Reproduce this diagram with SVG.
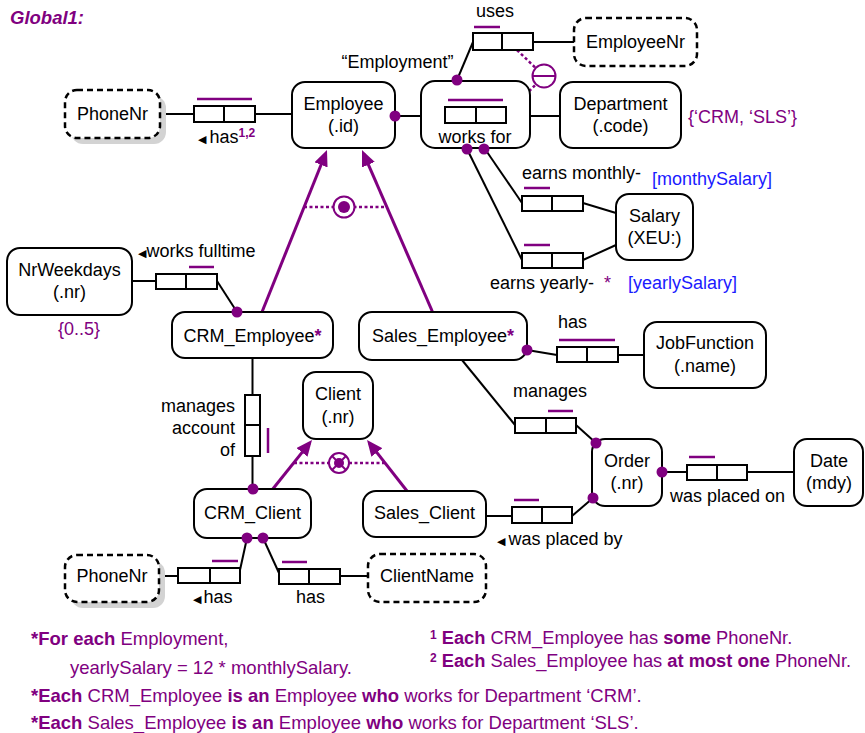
<svg xmlns="http://www.w3.org/2000/svg" width="865" height="733" viewBox="0 0 865 733">
<defs>
<style>
.ent{fill:#fff;stroke:#000;stroke-width:2}
.val{fill:#fff;stroke:#000;stroke-width:2.5;stroke-dasharray:6 4}
.shd{fill:#d3d3d3;stroke:none}
.role{fill:#fff;stroke:#000;stroke-width:2}
.ln{stroke:#000;stroke-width:2;fill:none}
.uq{stroke:#800080;stroke-width:2.5;fill:none}
.sub{stroke:#800080;stroke-width:3;fill:none}
.cdash{stroke:#800080;stroke-width:2.5;stroke-dasharray:3 2.5;fill:none}
.csym{fill:#fff;stroke:#800080;stroke-width:2}
.dot{fill:#800080}
text{font-family:"Liberation Sans",Arial,sans-serif;font-size:18px;fill:#000}
.c{text-anchor:middle}
.e{text-anchor:end}
.p{fill:#800080}
.b{fill:#1a1aff}
.bold{font-weight:bold}
.tri{font-family:"DejaVu Sans",sans-serif;font-size:11px}
.note{font-size:18.5px;fill:#800080}
.fn{font-size:18.3px;fill:#800080}
</style>
<marker id="arr" viewBox="0 0 16 14" markerWidth="16" markerHeight="14" refX="12" refY="7" orient="auto" markerUnits="userSpaceOnUse">
<path d="M0,0 L16,7 L0,14 z" fill="#800080"/>
</marker>
</defs>

<text x="10" y="24" class="p bold" style="font-style:italic;font-size:18.5px">Global1:</text>

<g id="connectors">
<line class="ln" x1="160" y1="114" x2="293" y2="114"/>
<line class="ln" x1="395" y1="116" x2="560" y2="116"/>
<line class="ln" x1="457" y1="80" x2="473" y2="42"/>
<line class="ln" x1="533" y1="42" x2="574" y2="42"/>
<line class="ln" x1="485" y1="149" x2="522" y2="203"/>
<line class="ln" x1="467" y1="149" x2="522" y2="260"/>
<line class="ln" x1="583" y1="203" x2="616" y2="213"/>
<line class="ln" x1="583" y1="260" x2="616" y2="245"/>
<line class="ln" x1="132" y1="281" x2="156" y2="281"/>
<line class="ln" x1="217" y1="281" x2="237" y2="312"/>
<line class="ln" x1="527" y1="350" x2="557" y2="355"/>
<line class="ln" x1="618" y1="355" x2="644" y2="355"/>
<line class="ln" x1="462" y1="360" x2="515" y2="425"/>
<line class="ln" x1="576" y1="425" x2="596" y2="443"/>
<line class="ln" x1="662" y1="472" x2="687" y2="472"/>
<line class="ln" x1="747" y1="472" x2="794" y2="472"/>
<line class="ln" x1="486" y1="516" x2="512" y2="516"/>
<line class="ln" x1="572" y1="516" x2="593" y2="498"/>
<line class="ln" x1="252.5" y1="358" x2="252.5" y2="395"/>
<line class="ln" x1="252.5" y1="456" x2="252.5" y2="489"/>
<line class="ln" x1="159" y1="576" x2="178" y2="576"/>
<line class="ln" x1="247" y1="538" x2="240" y2="570"/>
<line class="ln" x1="263" y1="538" x2="279" y2="573"/>
<line class="ln" x1="340" y1="576" x2="368" y2="576"/>
<line class="sub" x1="262" y1="312" x2="325.5" y2="153.7" marker-end="url(#arr)"/>
<line class="sub" x1="433" y1="313" x2="363.6" y2="153.7" marker-end="url(#arr)"/>
<line class="sub" x1="272" y1="490" x2="309.5" y2="443.1" marker-end="url(#arr)"/>
<line class="sub" x1="407" y1="491" x2="369.5" y2="443.1" marker-end="url(#arr)"/>
<line class="cdash" x1="304" y1="207" x2="387" y2="207"/>
<line class="cdash" x1="294" y1="463" x2="385" y2="463"/>
<line class="cdash" x1="517" y1="50" x2="544" y2="76"/>
<line class="cdash" x1="506" y1="115" x2="544" y2="76"/>
</g>

<g id="constraint-employee-xor">
<circle class="csym" cx="344" cy="207" r="10.5"/>
<circle class="dot" cx="344" cy="207" r="6"/>
</g>
<g id="constraint-client-partition">
<circle class="csym" cx="339" cy="463" r="10"/>
<line class="uq" style="stroke-width:2" x1="332" y1="456" x2="346" y2="470"/>
<line class="uq" style="stroke-width:2" x1="346" y1="456" x2="332" y2="470"/>
<circle class="dot" cx="339" cy="463" r="5"/>
</g>
<g id="constraint-external-uniqueness">
<circle class="csym" cx="544" cy="76" r="11.5"/>
<line class="uq" style="stroke-width:2" x1="532.5" y1="76" x2="555.5" y2="76"/>
</g>

<g id="PhoneNr1">
<rect class="shd" x="71" y="96" width="95" height="48" rx="12"/>
<rect class="val" x="65" y="90" width="95" height="48" rx="12"/>
<text class="c" x="112.5" y="120">PhoneNr</text>
</g>
<g id="fact-has-phone">
<rect class="role" x="194" y="106" width="30" height="16"/>
<rect class="role" x="224" y="106" width="31" height="16"/>
<line class="uq" x1="197" y1="99" x2="252" y2="99"/>
<text x="198" y="143"><tspan class="tri">◀</tspan><tspan dx="3">has</tspan><tspan class="p bold" style="font-size:12px" dy="-6">1,2</tspan></text>
</g>

<g id="Employee">
<rect class="ent" x="292" y="82" width="103" height="66" rx="13"/>
<text class="c" x="343.5" y="110">Employee</text>
<text class="c" x="343.5" y="132">(.id)</text>
</g>

<g id="Employment">
<rect class="ent" x="421" y="81" width="109" height="67" rx="14"/>
<rect class="role" x="445" y="107" width="31" height="16"/>
<rect class="role" x="476" y="107" width="30" height="16"/>
<line class="uq" x1="448" y1="100" x2="503" y2="100"/>
<text class="c" x="475" y="143">works for</text>
<text class="c" x="397.5" y="68">“Employment”</text>
</g>

<g id="fact-uses">
<rect class="role" x="473" y="33" width="29" height="17"/>
<rect class="role" x="502" y="33" width="31" height="17"/>
<line class="uq" x1="474" y1="27" x2="500" y2="27"/>
<text class="c" x="495" y="17">uses</text>
</g>

<g id="EmployeeNr">
<rect class="val" x="574" y="18" width="123" height="48" rx="12"/>
<text class="c" x="635.5" y="48">EmployeeNr</text>
</g>

<g id="Department">
<rect class="ent" x="560" y="82" width="121" height="66" rx="13"/>
<text class="c" x="620.5" y="110">Department</text>
<text class="c" x="620.5" y="132">(.code)</text>
<text class="p" x="688" y="123">{‘CRM, ‘SLS’}</text>
</g>

<g id="fact-earns-monthly">
<rect class="role" x="522" y="196" width="30" height="15"/>
<rect class="role" x="552" y="196" width="31" height="15"/>
<line class="uq" x1="524" y1="188" x2="550" y2="188"/>
<text x="522" y="179">earns monthly-</text>
<text class="b" x="652" y="185">[monthySalary]</text>
</g>
<g id="fact-earns-yearly">
<rect class="role" x="522" y="253" width="30" height="15"/>
<rect class="role" x="552" y="253" width="31" height="15"/>
<line class="uq" x1="524" y1="245" x2="550" y2="245"/>
<text x="490" y="289">earns yearly-</text>
<text class="p" x="604" y="289">*</text>
<text class="b" x="628" y="289">[yearlySalary]</text>
</g>

<g id="Salary">
<rect class="ent" x="616" y="194" width="77" height="66" rx="13"/>
<text class="c" x="654.5" y="222">Salary</text>
<text class="c" x="654.5" y="244">(XEU:)</text>
</g>

<g id="NrWeekdays">
<rect class="ent" x="7" y="248" width="125" height="67" rx="13"/>
<text class="c" x="69.5" y="276">NrWeekdays</text>
<text class="c" x="69.5" y="298">(.nr)</text>
<text class="c p" x="79" y="335">{0..5}</text>
</g>
<g id="fact-works-fulltime">
<rect class="role" x="156" y="274" width="30" height="15"/>
<rect class="role" x="186" y="274" width="31" height="15"/>
<line class="uq" x1="189" y1="267" x2="214" y2="267"/>
<text x="138" y="257"><tspan class="tri">◀</tspan><tspan>works fulltime</tspan></text>
</g>

<g id="CRM_Employee">
<rect class="ent" x="172" y="312" width="161" height="46" rx="13"/>
<text class="c" x="252.5" y="342">CRM_Employee<tspan class="p bold">*</tspan></text>
</g>

<g id="Sales_Employee">
<rect class="ent" x="359" y="312" width="168" height="48" rx="13"/>
<text class="c" x="443" y="342">Sales_Employee<tspan class="p bold">*</tspan></text>
</g>

<g id="fact-has-jobfunction">
<rect class="role" x="557" y="347" width="30" height="15"/>
<rect class="role" x="587" y="347" width="31" height="15"/>
<line class="uq" x1="559" y1="340" x2="615" y2="340"/>
<text x="558" y="328">has</text>
</g>

<g id="JobFunction">
<rect class="ent" x="644" y="322" width="122" height="66" rx="13"/>
<text class="c" x="705" y="349">JobFunction</text>
<text class="c" x="705" y="372">(.name)</text>
</g>

<g id="fact-manages-account">
<rect class="role" x="245" y="395" width="15" height="30"/>
<rect class="role" x="245" y="425" width="15" height="31"/>
<line class="uq" x1="268" y1="428" x2="268" y2="453"/>
<text class="e" x="235" y="412">manages</text>
<text class="e" x="235" y="434">account</text>
<text class="e" x="235" y="456">of</text>
</g>

<g id="Client">
<rect class="ent" x="303" y="372" width="70" height="67" rx="13"/>
<text class="c" x="338" y="400">Client</text>
<text class="c" x="338" y="423">(.nr)</text>
</g>

<g id="fact-manages-order">
<rect class="role" x="515" y="418" width="31" height="15"/>
<rect class="role" x="546" y="418" width="30" height="15"/>
<line class="uq" x1="548" y1="411" x2="573" y2="411"/>
<text x="513" y="397">manages</text>
</g>

<g id="Order">
<rect class="ent" x="592" y="439" width="70" height="67" rx="13"/>
<text class="c" x="627" y="467">Order</text>
<text class="c" x="627" y="489">(.nr)</text>
</g>

<g id="fact-placed-on">
<rect class="role" x="687" y="465" width="30" height="15"/>
<rect class="role" x="717" y="465" width="30" height="15"/>
<line class="uq" x1="689" y1="457" x2="715" y2="457"/>
<text x="670" y="502">was placed on</text>
</g>

<g id="Date">
<rect class="ent" x="794" y="439" width="69" height="67" rx="13"/>
<text class="c" x="829" y="467">Date</text>
<text class="c" x="829" y="489">(mdy)</text>
</g>

<g id="fact-placed-by">
<rect class="role" x="512" y="507" width="30" height="16"/>
<rect class="role" x="542" y="507" width="30" height="16"/>
<line class="uq" x1="514" y1="500" x2="539" y2="500"/>
<text x="497" y="545"><tspan class="tri">◀</tspan><tspan dx="3">was placed by</tspan></text>
</g>

<g id="CRM_Client">
<rect class="ent" x="194" y="489" width="117" height="49" rx="13"/>
<text class="c" x="252.5" y="519">CRM_Client</text>
</g>

<g id="Sales_Client">
<rect class="ent" x="363" y="491" width="123" height="46" rx="13"/>
<text class="c" x="424.5" y="519">Sales_Client</text>
</g>

<g id="PhoneNr2">
<rect class="shd" x="71" y="561" width="94" height="47" rx="12"/>
<rect class="val" x="65" y="555" width="94" height="47" rx="12"/>
<text class="c" x="112" y="582">PhoneNr</text>
</g>
<g id="fact-client-has-phone">
<rect class="role" x="178" y="568" width="32" height="15"/>
<rect class="role" x="210" y="568" width="30" height="15"/>
<line class="uq" x1="212" y1="561" x2="238" y2="561"/>
<text x="193" y="603"><tspan class="tri">◀</tspan><tspan dx="2">has</tspan></text>
</g>

<g id="fact-client-has-name">
<rect class="role" x="279" y="569" width="30" height="15"/>
<rect class="role" x="309" y="569" width="31" height="15"/>
<line class="uq" x1="282" y1="562" x2="307" y2="562"/>
<text x="296" y="603">has</text>
</g>

<g id="ClientName">
<rect class="val" x="368" y="554" width="118" height="48" rx="12"/>
<text class="c" x="427" y="582">ClientName</text>
</g>

<g id="dots">
<circle class="dot" cx="395" cy="116" r="5.5"/>
<circle class="dot" cx="457" cy="80" r="5.5"/>
<circle class="dot" cx="467" cy="149" r="5.5"/>
<circle class="dot" cx="484" cy="149" r="5.5"/>
<circle class="dot" cx="237" cy="312" r="5.5"/>
<circle class="dot" cx="527" cy="350" r="5.5"/>
<circle class="dot" cx="596" cy="443" r="5.5"/>
<circle class="dot" cx="593" cy="498" r="5.5"/>
<circle class="dot" cx="662" cy="472" r="5.5"/>
<circle class="dot" cx="253" cy="489" r="5.5"/>
<circle class="dot" cx="247" cy="538" r="5.5"/>
<circle class="dot" cx="263" cy="538" r="5.5"/>
</g>

<g id="notes">
<text class="note" x="31" y="645"><tspan class="bold">*For each</tspan> Employment,</text>
<text class="note" x="70" y="674">yearlySalary = 12 * monthlySalary.</text>
<text class="note" x="31" y="702"><tspan class="bold">*Each</tspan> CRM_Employee <tspan class="bold">is an</tspan> Employee <tspan class="bold">who</tspan> works for Department ‘CRM’.</text>
<text class="note" x="31" y="729"><tspan class="bold">*Each</tspan> Sales_Employee <tspan class="bold">is an</tspan> Employee <tspan class="bold">who</tspan> works for Department ‘SLS’.</text>
<text class="fn" x="430" y="644"><tspan class="bold" style="font-size:12px" dy="-5">1</tspan><tspan class="bold" dx="5" dy="5">Each</tspan> CRM_Employee has <tspan class="bold">some</tspan> PhoneNr.</text>
<text class="fn" x="430" y="667"><tspan class="bold" style="font-size:12px" dy="-5">2</tspan><tspan class="bold" dx="5" dy="5">Each</tspan> Sales_Employee has <tspan class="bold">at most one</tspan> PhoneNr.</text>
</g>
</svg>
